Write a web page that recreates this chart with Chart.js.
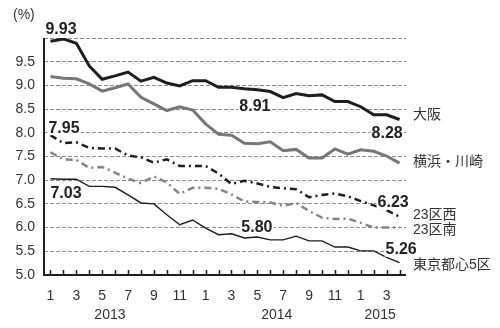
<!DOCTYPE html>
<html>
<head>
<meta charset="utf-8">
<script src="https://cdn.jsdelivr.net/npm/chart.js@4/dist/chart.umd.min.js"></script>
<style>
html,body{margin:0;padding:0;background:#fff;}
#wrap{width:500px;height:328px;}
</style>
</head>
<body>
<div id="wrap"><canvas id="myChart" width="500" height="328"></canvas></div>
<script>
// months Jan 2013 .. Apr 2015
var months = [1,2,3,4,5,6,7,8,9,10,11,12, 1,2,3,4,5,6,7,8,9,10,11,12, 1,2,3,4];
var years = ["2013","2014","2015"];
var yTicks = [5.0,5.5,6.0,6.5,7.0,7.5,8.0,8.5,9.0,9.5,10.0];

var names = ["大阪","横浜・川崎","23区西","23区南","東京都心5区"];

var osaka = [9.93,9.98,9.89,9.41,9.13,9.20,9.28,9.09,9.17,9.05,8.99,9.10,9.10,8.96,
             8.96,8.93,8.91,8.87,8.74,8.83,8.78,8.80,8.66,8.66,8.55,8.38,8.38,8.28];
var yokohama = [9.19,9.15,9.14,9.03,8.88,8.95,9.03,8.75,8.61,8.47,8.55,8.48,8.19,7.97,
                7.95,7.78,7.77,7.81,7.62,7.65,7.47,7.47,7.66,7.55,7.64,7.61,7.51,7.36];
var west23 = [7.95,7.78,7.80,7.68,7.67,7.67,7.52,7.48,7.37,7.44,7.30,7.30,7.30,7.14,
              6.92,6.99,6.93,6.86,6.83,6.81,6.64,6.69,6.72,6.66,6.56,6.47,6.37,6.23];
var south23 = [7.59,7.44,7.43,7.26,7.28,7.16,7.03,6.94,7.08,6.95,6.71,6.84,6.84,6.82,
               6.70,6.55,6.54,6.53,6.46,6.52,6.35,6.21,6.18,6.19,6.10,6.00,6.00,6.00];
var tokyo5 = [7.03,7.02,7.02,6.87,6.87,6.85,6.69,6.52,6.50,6.27,6.06,6.16,5.99,5.85,
              5.87,5.78,5.80,5.74,5.74,5.82,5.72,5.72,5.59,5.59,5.51,5.51,5.37,5.26];

var FONT = "'Liberation Sans', Arial, sans-serif";
var CJK = "'Liberation Sans', 'Noto Sans CJK JP', sans-serif";

// labels, axis lines, month ticks and year captions
var decor = {
    id: 'decor',
    afterDraw: function(chart){
        var ctx = chart.ctx, a = chart.chartArea, xs = chart.scales.x, ys = chart.scales.y;
        ctx.save();

        ctx.strokeStyle = "#1e1e1e";
        ctx.lineWidth = 2;
        ctx.beginPath();
        ctx.moveTo(a.left, a.top);
        ctx.lineTo(a.left, a.bottom);
        ctx.lineTo(a.right, a.bottom);
        ctx.stroke();

        ctx.lineWidth = 1.5;
        ctx.beginPath();
        for (var i = 0; i < months.length; i++){
            var px = Math.round(xs.getPixelForValue(i)) + 0.5;
            ctx.moveTo(px, a.bottom);
            ctx.lineTo(px, a.bottom - 5);
        }
        ctx.stroke();

        ctx.fillStyle = "#333";
        ctx.font = "14px " + FONT;
        ctx.textAlign = "center";
        ctx.textBaseline = "middle";
        var yearAt = [4.6, 17.5, 25.5];
        for (var k = 0; k < years.length; k++){
            ctx.fillText(years[k], xs.getPixelForValue(yearAt[k]), 315);
        }

        ctx.textAlign = "left";
        ctx.fillText("(%)", 13, 15);

        // series names at the right end
        ctx.font = "14px " + CJK;
        var nameY = [115, 162, 215, 230, 265];
        for (var n = 0; n < names.length; n++){
            ctx.fillText(names[n], a.right + 7, nameY[n]);
        }

        // value callouts: [dataset, point, dx, dy]
        var callouts = [[0,0,-5,-13],[2,0,-2,-8],[4,0,0,14],[0,16,-18,-2],[0,27,-28,13],
                        [2,27,-22,-15],[4,16,-16,-10],[4,27,-14,-14]];
        ctx.font = "bold 16px " + FONT;
        ctx.fillStyle = "#222";
        for (var c = 0; c < callouts.length; c++){
            var co = callouts[c];
            var v = chart.data.datasets[co[0]].data[co[1]];
            var cx = xs.getPixelForValue(co[1]) + co[2];
            var cy = ys.getPixelForValue(v) + co[3];
            if (co[0] == 0 && co[1] == 16) cy = 106;
            var t = v.toFixed(2);
            var w = ctx.measureText(t).width;
            ctx.fillStyle = "#fff";
            ctx.fillRect(cx - 1, cy - 8, w + 2, 16);
            ctx.fillStyle = "#222";
            ctx.fillText(t, cx, cy + 1);
        }
        ctx.restore();
    }
};

var DASHDOT = [7,4,2,4];

new Chart("myChart", {
    type: "line",
    data: {
        labels: months,
        datasets: [
            {label: names[0], data: osaka, borderColor: "#1e1e1e", borderWidth: 3},
            {label: names[1], data: yokohama, borderColor: "#777777", borderWidth: 3},
            {label: names[2], data: west23, borderColor: "#1e1e1e", borderWidth: 2.5, borderDash: DASHDOT},
            {label: names[3], data: south23, borderColor: "#858585", borderWidth: 2.5, borderDash: DASHDOT},
            {label: names[4], data: tokyo5, borderColor: "#1e1e1e", borderWidth: 1.4}
        ]
    },
    options: {
        responsive: false,
        animation: false,
        layout: {padding: {top: 38, right: 94, left: 0, bottom: 0}},
        elements: {point: {radius: 0}, line: {tension: 0, fill: false}},
        plugins: {legend: {display: false}, tooltip: {enabled: false}},
        scales: {
            x: {
                type: "category",
                offset: true,
                grid: {display: false, drawTicks: false},
                border: {display: false},
                afterFit: function(s){ s.height = 53; },
                ticks: {
                    autoSkip: false, maxRotation: 0, padding: 13,
                    color: "#333", font: {family: FONT, size: 14},
                    callback: function(val, idx){ return idx % 2 == 0 ? String(months[idx]) : ""; }
                }
            },
            y: {
                min: 5, max: 10,
                afterBuildTicks: function(s){ s.ticks = yTicks.map(function(v){ return {value: v}; }); },
                afterFit: function(s){ s.width = 44; },
                grid: {color: "#8c8c8c", lineWidth: 1, drawTicks: false},
                border: {display: false, dash: [4,2]},
                ticks: {
                    padding: 9, color: "#333", font: {family: FONT, size: 14},
                    callback: function(v){ return v >= 10 ? "" : v.toFixed(1); }
                }
            }
        }
    },
    plugins: [decor]
});
</script>
</body>
</html>
